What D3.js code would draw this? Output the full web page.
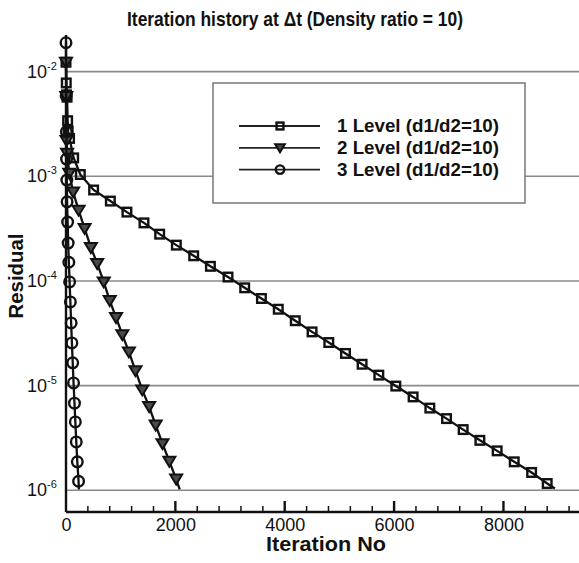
<!DOCTYPE html>
<html>
<head>
<meta charset="utf-8">
<script src="https://cdn.jsdelivr.net/npm/d3@7"></script>
<style>
  body { margin: 0; background: #fff; }
  text { font-family: "Liberation Sans", Arial, sans-serif; fill: #111; }
</style>
</head>
<body>
<svg id="chart"></svg>
<script>
// Iteration history, residual vs iteration (log y)
const iter1 = [0, 5, 10, 20, 30, 40, 65, 140, 262, 505, 811, 1114, 1426, 1713, 2018, 2335, 2641, 2963,
    3268, 3574, 3882, 4193, 4500, 4806, 5111, 5415, 5721, 6032, 6348, 6654, 6959, 7263, 7569, 7885,
    8197, 8515, 8800, 8941];
const res1 = [0.0123, 0.0078, 0.006, 0.0057, 0.0034, 0.0027, 0.0023, 0.0015, 1.04e-3, 7.4e-4, 5.8e-4,
    4.55e-4, 3.59e-4, 2.8e-4, 2.2e-4, 1.74e-4, 1.38e-4, 1.09e-4, 8.6e-5, 6.8e-5, 5.37e-5, 4.17e-5,
    3.26e-5, 2.58e-5, 2.03e-5, 1.6e-5, 1.26e-5, 9.9e-6, 7.8e-6, 6.1e-6, 4.84e-6, 3.8e-6, 3.0e-6,
    2.38e-6, 1.87e-6, 1.48e-6, 1.16e-6, 1.04e-6];

const iter2 = [0, 5, 10, 20, 60, 130, 230, 340, 455, 570, 690, 800, 915, 1030, 1150, 1270, 1395, 1520,
    1640, 1765, 1890, 2015, 2079];
const res2 = [0.0123, 0.0058, 0.0022, 0.00166, 1.07e-3, 7.1e-4, 4.75e-4, 3.18e-4, 2.09e-4, 1.47e-4,
    9.8e-5, 6.5e-5, 4.48e-5, 3.07e-5, 2.1e-5, 1.39e-5, 9.1e-6, 6.3e-6, 4.2e-6, 2.79e-6, 1.89e-6,
    1.28e-6, 1.02e-6];

const iter3 = [0, 3, 6, 10, 15, 20, 30, 40, 52, 66, 80, 94, 108, 123, 138, 155, 171, 188, 207, 230, 236];
const res3 = [0.0189, 0.00589, 0.00266, 0.00146, 9.2e-4, 5.7e-4, 3.65e-4, 2.3e-4, 1.51e-4, 9.8e-5,
    6.3e-5, 3.97e-5, 2.56e-5, 1.65e-5, 1.06e-5, 6.8e-6, 4.5e-6, 2.9e-6, 1.87e-6, 1.22e-6, 1.02e-6];

const seriesNames = ["1 Level (d1/d2=10)", "2 Level (d1/d2=10)", "3 Level (d1/d2=10)"];
const xMajorTicks = [0, 2000, 4000, 6000, 8000];
const yTickExps = [-2, -3, -4, -5, -6];

const width = 579, height = 563;

function drawChart() {
    const svg = d3.select("#chart")
        .attr("width", width)
        .attr("height", height);

    const x = d3.scaleLinear().domain([0, 9400]).range([66, 580]);
    const y = d3.scaleLog().domain([6.2e-7, 0.0224]).range([512, 35]);

    // title
    svg.append("text")
        .attr("x", 295).attr("y", 26)
        .attr("text-anchor", "middle")
        .attr("textLength", 336).attr("lengthAdjust", "spacingAndGlyphs")
        .style("font-size", "21px").style("font-weight", "bold")
        .text("Iteration history at \u0394t (Density ratio = 10)");

    // grid lines at decades
    svg.selectAll("line.grid")
        .data(yTickExps)
        .enter().append("line")
        .attr("class", "grid")
        .attr("x1", x(0)).attr("x2", width)
        .attr("y1", d => y(Math.pow(10, d)))
        .attr("y2", d => y(Math.pow(10, d)))
        .style("stroke", "#8a8a8a")
        .style("stroke-width", 1.6);

    // y tick labels 10^n
    const yl = svg.selectAll("text.ylab")
        .data(yTickExps)
        .enter().append("text")
        .attr("class", "ylab")
        .attr("x", 27)
        .attr("y", d => y(Math.pow(10, d)) + 6)
        .style("font-size", "18px");
    yl.append("tspan").text("10");
    yl.append("tspan")
        .attr("dy", -8)
        .style("font-size", "11px")
        .text(d => String(d));

    // x axis
    const xAxis = d3.axisBottom(x)
        .tickValues(xMajorTicks)
        .tickSize(0)
        .tickPadding(6)
        .tickFormat(d3.format("d"));
    const gx = svg.append("g")
        .attr("transform", "translate(0,512)")
        .call(xAxis);
    gx.select(".domain").remove();
    gx.selectAll("text")
        .style("font-size", "18px")
        .style("font-family", "Liberation Sans, Arial, sans-serif")
        .attr("fill", "#111");

    // minor and major x ticks (pointing inward)
    const minorTicks = d3.range(400, 9400, 400).filter(v => v % 2000 !== 0);
    svg.selectAll("line.xminor")
        .data(minorTicks)
        .enter().append("line")
        .attr("x1", d => x(d)).attr("x2", d => x(d))
        .attr("y1", 512).attr("y2", 506)
        .style("stroke", "#111").style("stroke-width", 1.5);
    svg.selectAll("line.xmajor")
        .data(xMajorTicks.slice(1))
        .enter().append("line")
        .attr("x1", d => x(d)).attr("x2", d => x(d))
        .attr("y1", 512).attr("y2", 501)
        .style("stroke", "#111").style("stroke-width", 2.4);

    // axes lines
    svg.append("line")
        .attr("x1", x(0)).attr("x2", width)
        .attr("y1", 512).attr("y2", 512)
        .style("stroke", "#111").style("stroke-width", 2.4);
    svg.append("line")
        .attr("x1", x(0)).attr("x2", x(0))
        .attr("y1", 35).attr("y2", 512)
        .style("stroke", "#111").style("stroke-width", 2.4);

    // axis titles
    svg.append("text")
        .attr("x", 326).attr("y", 551)
        .attr("text-anchor", "middle")
        .attr("textLength", 120).attr("lengthAdjust", "spacingAndGlyphs")
        .style("font-size", "20px").style("font-weight", "bold")
        .text("Iteration No");
    svg.append("text")
        .attr("transform", "translate(23,276) rotate(-90)")
        .attr("text-anchor", "middle")
        .attr("textLength", 85).attr("lengthAdjust", "spacingAndGlyphs")
        .style("font-size", "21px").style("font-weight", "bold")
        .text("Residual");

    const series = [
        { it: iter1, res: res1, sym: "square" },
        { it: iter2, res: res2, sym: "triangle" },
        { it: iter3, res: res3, sym: "circle" }
    ];

    const line = d3.line()
        .x(d => x(d[0]))
        .y(d => y(d[1]));

    function drawMarker(g, sym, cx, cy, s) {
        if (sym === "square") {
            g.append("rect")
                .attr("x", cx - 4.3 * s).attr("y", cy - 4.3 * s)
                .attr("width", 8.6 * s).attr("height", 8.6 * s)
                .style("fill", "none").style("stroke", "#111").style("stroke-width", 2.4);
        } else if (sym === "triangle") {
            const p = d3.path();
            p.moveTo(cx - 6 * s, cy - 4.5 * s);
            p.lineTo(cx + 6 * s, cy - 4.5 * s);
            p.lineTo(cx, cy + 5.5 * s);
            p.closePath();
            g.append("path").attr("d", p.toString())
                .style("fill", "#4a4a4a").style("stroke", "#111").style("stroke-width", 2);
        } else {
            g.append("circle")
                .attr("cx", cx).attr("cy", cy).attr("r", 5.3 * s)
                .style("fill", "none").style("stroke", "#111").style("stroke-width", 2.4);
        }
    }

    const plot = svg.append("g");
    series.forEach(sr => {
        const pts = sr.it.map((v, i) => [v, sr.res[i]]);
        plot.append("path")
            .datum(pts)
            .attr("d", line)
            .style("fill", "none")
            .style("stroke", "#111")
            .style("stroke-width", 2.3);
        // last point is the line end, no symbol there
        pts.slice(0, -1).forEach(p => drawMarker(plot, sr.sym, x(p[0]), y(p[1]), 1));
    });

    // legend
    const lg = svg.append("g");
    lg.append("rect")
        .attr("x", 213).attr("y", 83)
        .attr("width", 312).attr("height", 120)
        .style("fill", "#fff")
        .style("stroke", "#777").style("stroke-width", 1.5);
    seriesNames.forEach((name, i) => {
        const ly = 126 + i * 21.8;
        lg.append("line")
            .attr("x1", 239).attr("x2", 320)
            .attr("y1", ly).attr("y2", ly)
            .style("stroke", "#222").style("stroke-width", 1.8);
        drawMarker(lg, series[i].sym, 280, ly, 0.8);
        lg.append("text")
            .attr("x", 337).attr("y", ly + 6)
            .attr("textLength", 162).attr("lengthAdjust", "spacingAndGlyphs")
            .style("font-size", "18px").style("font-weight", "bold")
            .text(name);
    });
}

window.onload = drawChart;
</script>
</body>
</html>
